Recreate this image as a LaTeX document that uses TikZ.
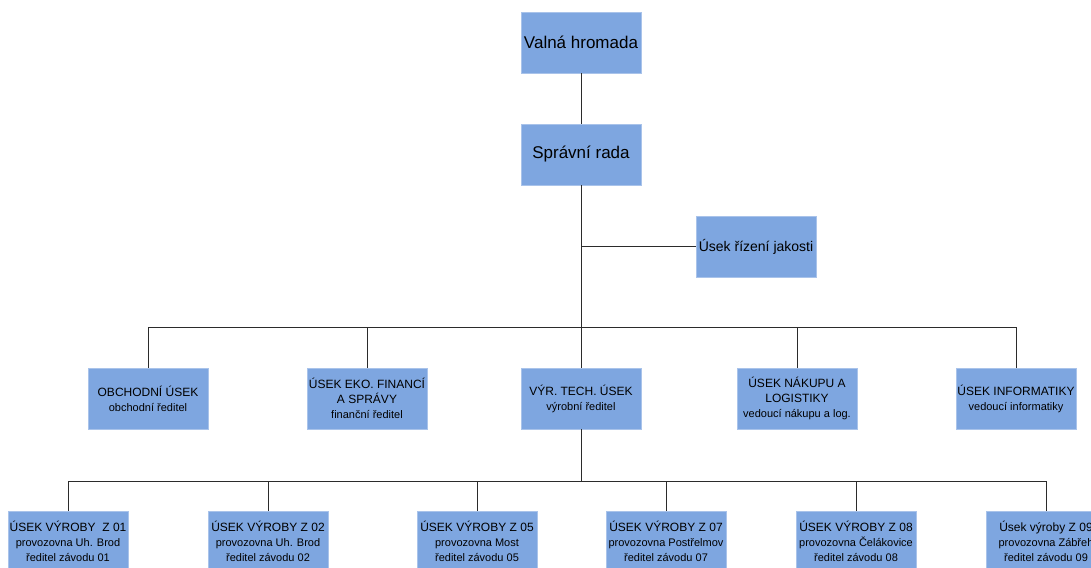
\documentclass[tikz,border=0pt]{standalone}
\usepackage{fontspec}
\setmainfont{Liberation Sans}
\definecolor{boxfill}{HTML}{7EA6E0}
\definecolor{boxline}{HTML}{A9C3EA}
\definecolor{wire}{HTML}{2B2B2B}
\newcommand{\subline}[1]{{\fontsize{11}{15}\selectfont #1}}
\begin{document}
\begin{tikzpicture}[
  x=1pt, y=-1pt,
  unit/.style={rectangle, draw=boxline, fill=boxfill, line width=0.8pt,
    minimum width=120pt, minimum height=61pt, inner sep=1pt,
    align=center, font=\fontsize{12}{15}\selectfont},
  big/.style={font=\fontsize{17}{20}\selectfont},
  mid/.style={font=\fontsize{14}{17}\selectfont},
  wire/.style={draw=wire, line width=1pt}
]
\useasboundingbox (0,0) rectangle (1091,567);
\clip (0,0) rectangle (1091,567);

% top
\node[unit,big] (vh) at (581,42.5) {Valná hromada};
\node[unit,big] (sr) at (581,154.5) {Správní rada};
\node[unit,mid] (qa) at (756,246.5) {Úsek řízení jakosti};

% useky
\node[unit] (obch) at (148,398.5) {OBCHODNÍ ÚSEK\\\subline{obchodní ředitel}};
\node[unit] (eko)  at (367,398.5) {ÚSEK EKO. FINANCÍ\\A SPRÁVY\\\subline{finanční ředitel}};
\node[unit] (vyr)  at (581,398.5) {VÝR. TECH. ÚSEK\\\subline{výrobní ředitel}};
\node[unit] (nak)  at (797,398.5) {ÚSEK NÁKUPU A\\LOGISTIKY\\\subline{vedoucí nákupu a log.}};
\node[unit] (inf)  at (1016,398.5) {ÚSEK INFORMATIKY\\\subline{vedoucí informatiky}};

% zavody
\node[unit] (z01) at (68,541.5)   {ÚSEK VÝROBY~ Z 01\\\subline{provozovna Uh. Brod}\\\subline{ředitel závodu 01}};
\node[unit] (z02) at (268,541.5)  {ÚSEK VÝROBY Z 02\\\subline{provozovna Uh. Brod}\\\subline{ředitel závodu 02}};
\node[unit] (z05) at (477,541.5)  {ÚSEK VÝROBY Z 05\\\subline{provozovna Most}\\\subline{ředitel závodu 05}};
\node[unit] (z07) at (666,541.5)  {ÚSEK VÝROBY Z 07\\\subline{provozovna Postřelmov}\\\subline{ředitel závodu 07}};
\node[unit] (z08) at (856,541.5)  {ÚSEK VÝROBY Z 08\\\subline{provozovna Čelákovice}\\\subline{ředitel závodu 08}};
\node[unit] (z09) at (1046,541.5) {Úsek výroby Z 09\\\subline{provozovna Zábřeh}\\\subline{ředitel závodu 09}};

\coordinate (busA) at (581,327);
\coordinate (busB) at (581,481);

\draw[wire] (vh) -- (sr);
\draw[wire] (sr) |- (qa);
\draw[wire] (sr) -- (busA);
\foreach \n in {obch,eko,vyr,nak,inf}
  \draw[wire] (busA) -| (\n);
\draw[wire] (vyr) -- (busB);
\foreach \n in {z01,z02,z05,z07,z08,z09}
  \draw[wire] (busB) -| (\n);
\end{tikzpicture}
\end{document}
